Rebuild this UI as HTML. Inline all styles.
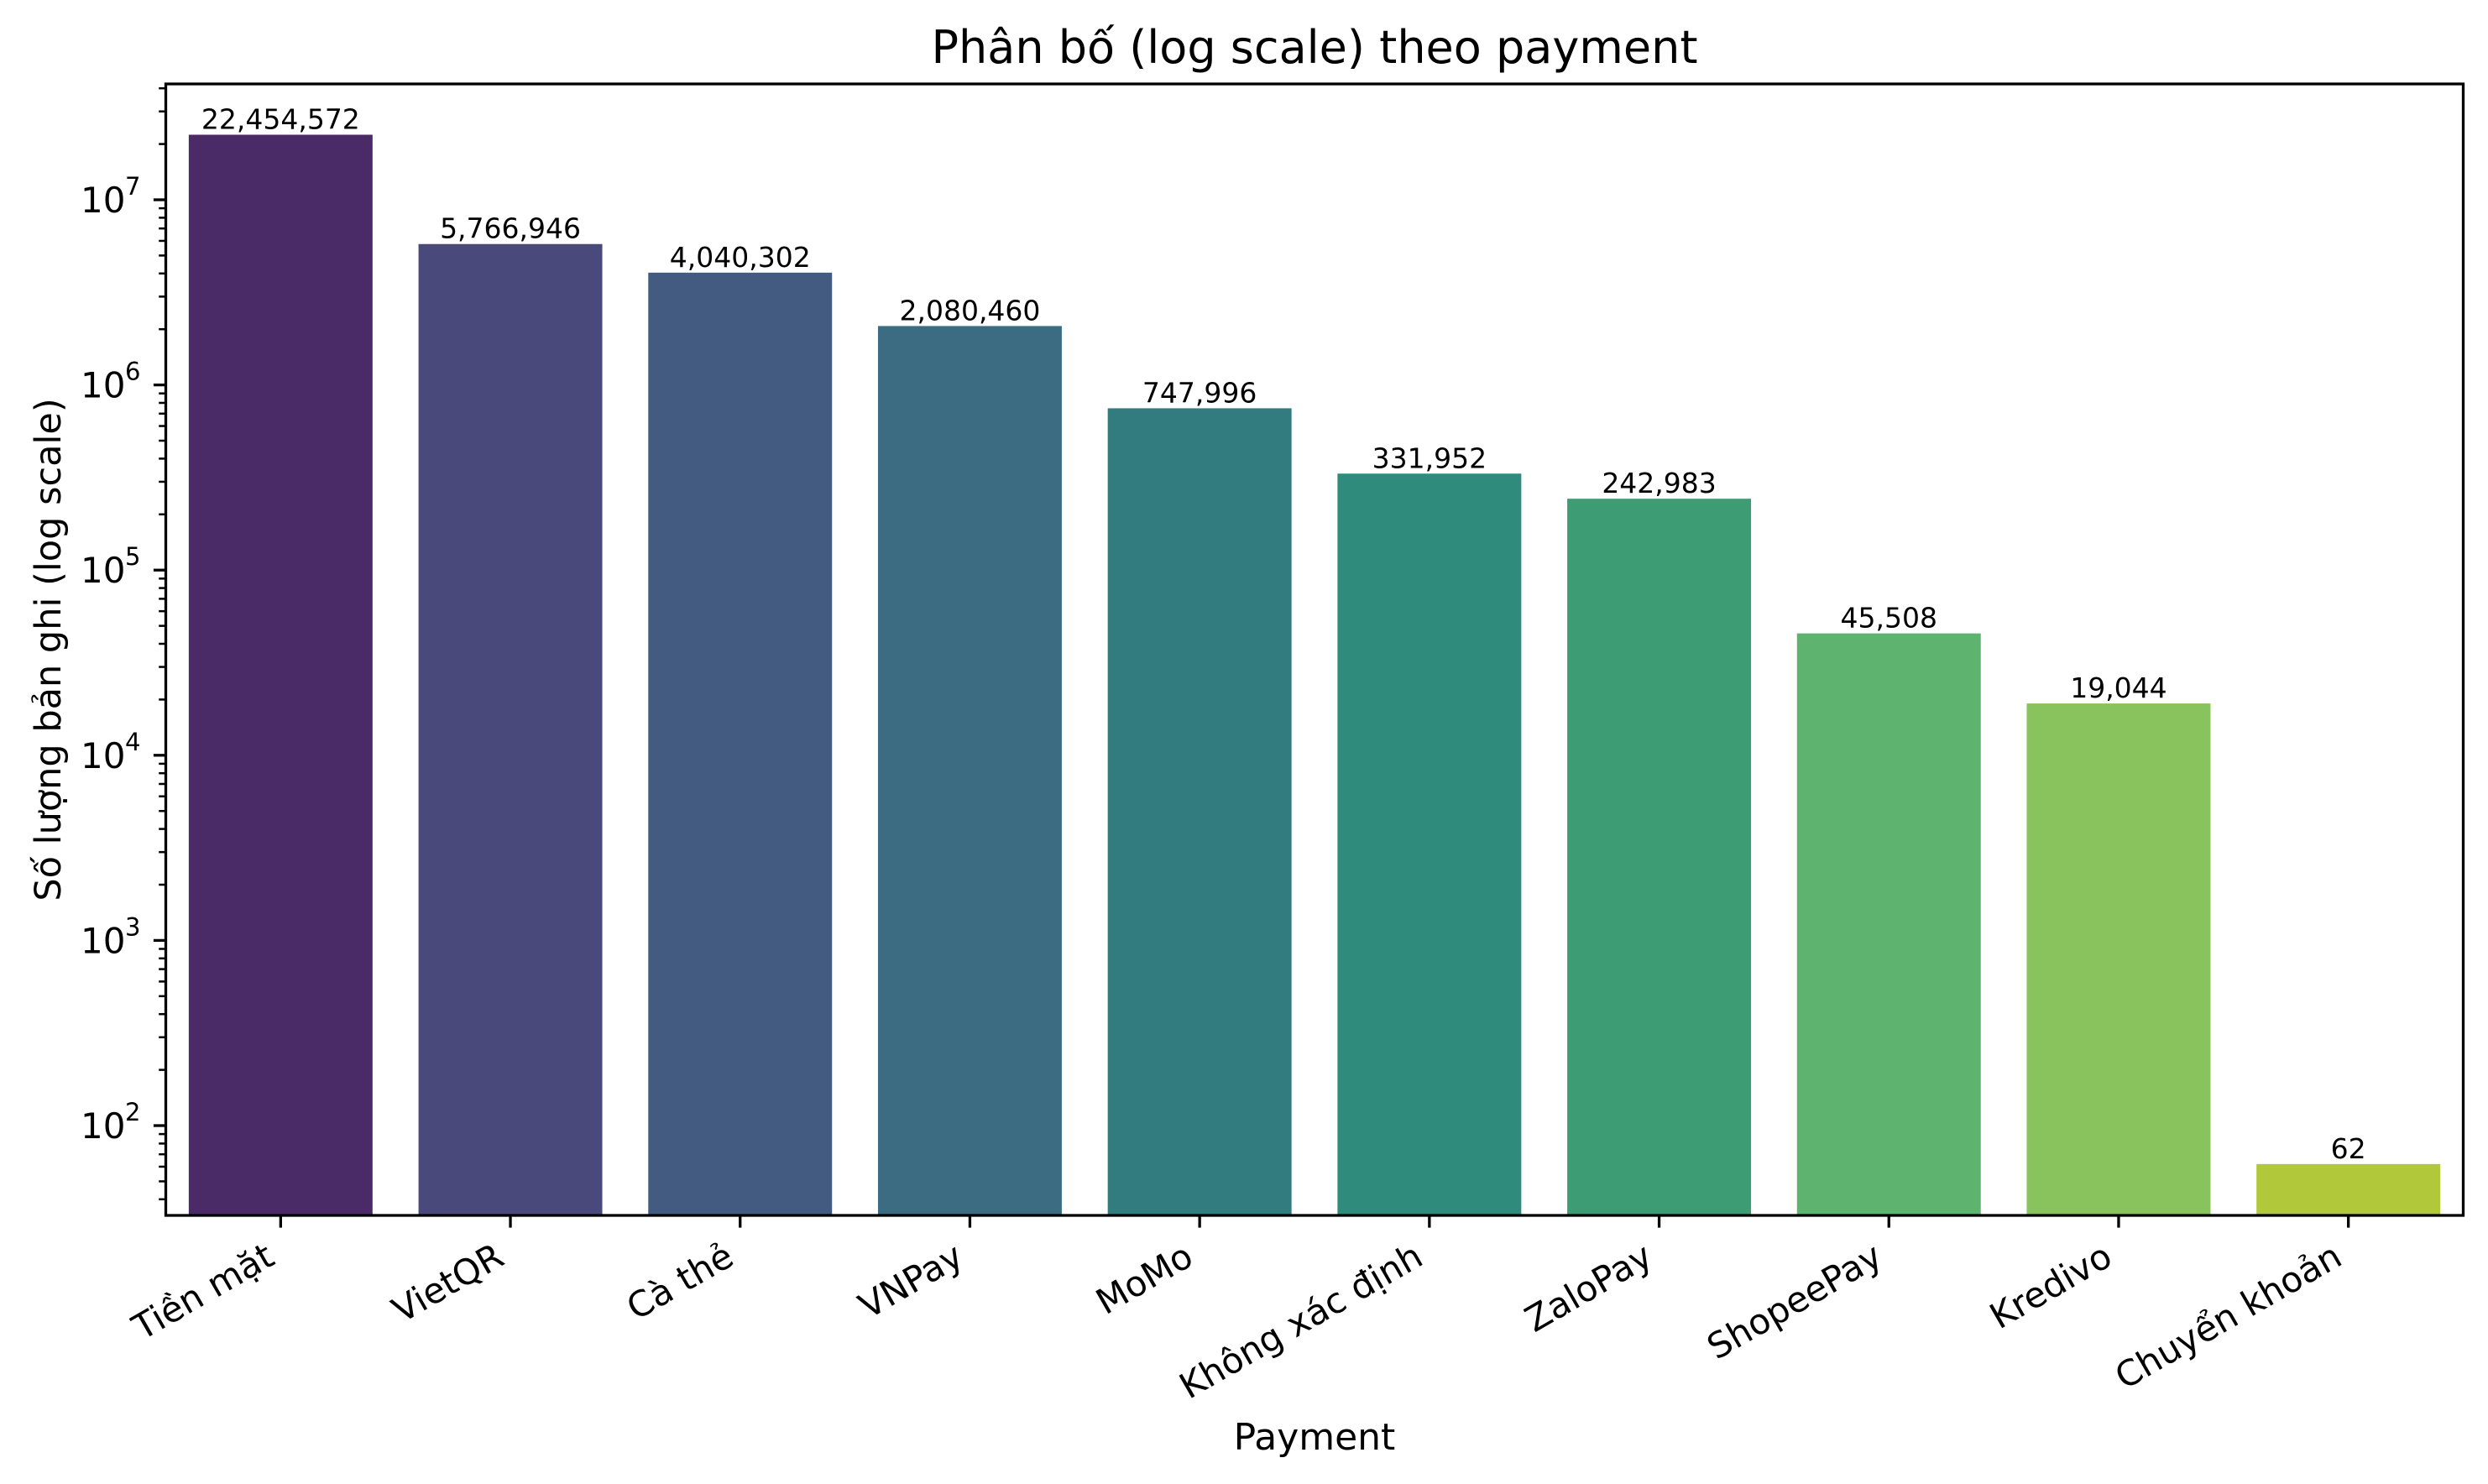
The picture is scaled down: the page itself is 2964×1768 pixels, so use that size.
<!DOCTYPE html>
<html><head><meta charset="utf-8">
<style>
html,body{margin:0;padding:0;background:#fff;}
svg{display:block;font-family:"DejaVu Sans","Liberation Sans",sans-serif;}
</style></head>
<body>
<svg id="chart" width="2964" height="1768" viewBox="0 0 2964 1768" xmlns="http://www.w3.org/2000/svg">
<rect x="0" y="0" width="2964" height="1768" fill="#fff"/>
<text x="1566" y="75" font-size="54" text-anchor="middle" fill="#000">Phân bố (log scale) theo payment</text>
<text x="0" y="0" font-size="43" text-anchor="middle" fill="#000" transform="translate(72,774) rotate(-90)">Số lượng bản ghi (log scale)</text>
<text x="1566" y="1727" font-size="44" text-anchor="middle" fill="#000">Payment</text>
<g id="bars"></g>
<g id="labels"></g>
<g id="yaxis"></g>
<g id="xaxis"></g>
<rect x="197.5" y="100" width="2737" height="1348" fill="none" stroke="#000" stroke-width="3.3"/>
</svg>
<script>
const categories = ["Tiền mặt","VietQR","Cà thẻ","VNPay","MoMo","Không xác định","ZaloPay","ShopeePay","Kredivo","Chuyển khoản"];
const values = [22454572,5766946,4040302,2080460,747996,331952,242983,45508,19044,62];
const valueLabels = ["22,454,572","5,766,946","4,040,302","2,080,460","747,996","331,952","242,983","45,508","19,044","62"];
const colors = ["#4a2b68","#4a497b","#435b81","#3b6c81","#327b7f","#2f8b7b","#3d9c73","#5eb36f","#89c35d","#b2c83b"];
const yTickExponents = [2,3,4,5,6,7];

const NS = "http://www.w3.org/2000/svg";
const L = 197.5, R = 2934.5, T = 100, B = 1448;
const LOGMIN = 1.515, LOGMAX = 7.6256;
function xScale(i){ return L + (i + 0.5) * (R - L) / categories.length; }
function yScale(v){ return B - (Math.log10(v) - LOGMIN) / (LOGMAX - LOGMIN) * (B - T); }
const band = (R - L) / categories.length, bw = band * 0.8;
function mk(tag, attrs, parent){ const e = document.createElementNS(NS, tag); for (const k in attrs) e.setAttribute(k, attrs[k]); parent.appendChild(e); return e; }

const gb = document.getElementById('bars'), gl = document.getElementById('labels');
const gy = document.getElementById('yaxis'), gx = document.getElementById('xaxis');

categories.forEach((c, i) => {
  const cx = xScale(i), yt = yScale(values[i]);
  const r = mk('rect', {x: cx - bw/2, y: yt, width: bw, height: B - yt, fill: colors[i]}, gb);
  
  
  const t = mk('text', {x: cx, y: yt - 7, 'font-size': 33, 'text-anchor': 'middle', fill: '#000'}, gl);
  t.textContent = valueLabels[i];
  
  
  const tk = mk('line', {x1: cx, x2: cx, y1: B, y2: B + 14.6, stroke: '#000', 'stroke-width': 3.3}, gx);
  
  
  const lb = mk('text', {x: 0, y: 0, 'font-size': 42, 'text-anchor': 'end', fill: '#000', transform: 'translate(' + (cx - 5) + ',1505) rotate(-30)'}, gx);
  lb.textContent = c;
  
  
});

for (let e = 1; e <= 7; e++) {
  for (let m = 2; m <= 9; m++) {
    const v = m * Math.pow(10, e);
    const y = yScale(v);
    if (y < T || y > B) continue;
    const mt = mk('line', {x1: L - 8.3, x2: L, y1: y, y2: y, stroke: '#000', 'stroke-width': 2.5}, gy);
    
    
  }
}
yTickExponents.forEach(e => {
  const y = yScale(Math.pow(10, e));
  const tk = mk('line', {x1: L - 14.6, x2: L, y1: y, y2: y, stroke: '#000', 'stroke-width': 3.3}, gy);
  
  
  const t = mk('text', {x: L - 48, y: y + 15, 'font-size': 42, 'text-anchor': 'end', fill: '#000'}, gy);
  t.textContent = '10';
  
  
  const s = mk('text', {x: L - 30, y: y - 6, 'font-size': 29, 'text-anchor': 'end', fill: '#000'}, gy);
  s.textContent = String(e);
  
  
});
</script>
</body></html>
